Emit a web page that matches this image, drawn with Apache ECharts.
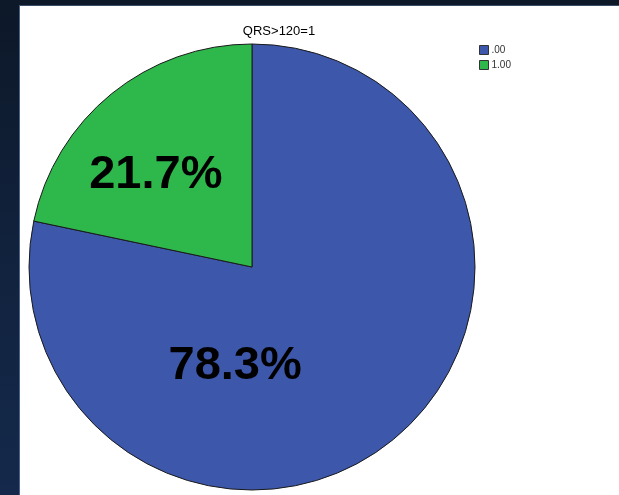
<!DOCTYPE html>
<html>
<head>
<meta charset="utf-8">
<script src="https://cdn.jsdelivr.net/npm/echarts@6/dist/echarts.min.js"></script>
<style>
html,body{margin:0;padding:0;width:619px;height:495px;overflow:hidden;}
body{background:linear-gradient(180deg,#0d1828 0%,#11223d 50%,#14294b 100%);}
#panel{position:absolute;left:19px;top:5px;width:600px;height:490px;background:#ffffff;border-left:1px solid #4b6284;border-top:1px solid #3a4e6a;box-sizing:border-box;}
#chart{position:absolute;left:0;top:0;width:619px;height:495px;}
</style>
</head>
<body>
<div id="panel"></div>
<div id="chart"></div>
<script>
const title = 'QRS>120=1';
const categories = ['.00', '1.00'];
const percents = [78.3, 21.7];
const colors = ['#3d57ab', '#2eb74b'];

const chart = echarts.init(document.getElementById('chart'), null, {renderer: 'canvas'});
const labelOffsets = [[-89, 10], [-24, -3]];
chart.setOption({
  backgroundColor: 'transparent',
  animation: false,
  title: {
    text: title, left: 274, top: 20, textAlign: 'center',
    textStyle: {fontFamily: 'Liberation Sans, Arial, sans-serif', fontSize: 13, fontWeight: 'normal', color: '#000'}
  },
  legend: {
    orient: 'vertical', left: 479, top: 45, itemWidth: 9, itemHeight: 9, itemGap: 5, icon: 'rect',
    padding: 0,
    textStyle: {fontFamily: 'Liberation Sans, Arial, sans-serif', fontSize: 10, color: '#333', padding: [0, 0, 0, -2]},
    itemStyle: {borderColor: '#333', borderWidth: 1},
    data: categories
  },
  series: [{
    type: 'pie',
    center: [252, 267],
    radius: [0, 223],
    startAngle: 90,
    clockwise: true,
    itemStyle: {borderColor: '#1a1a1a', borderWidth: 1},
    emphasis: {disabled: true},
    labelLine: {show: false},
    data: categories.map((c, i) => ({
      name: c, value: percents[i],
      itemStyle: {color: colors[i]},
      label: {
        show: true, position: 'inside', offset: labelOffsets[i],
        formatter: percents[i].toFixed(1) + '%',
        fontFamily: 'Liberation Sans, Arial, sans-serif', fontWeight: 'bold', fontSize: 47, color: '#000'
      }
    }))
  }]
});
</script>
</body>
</html>
